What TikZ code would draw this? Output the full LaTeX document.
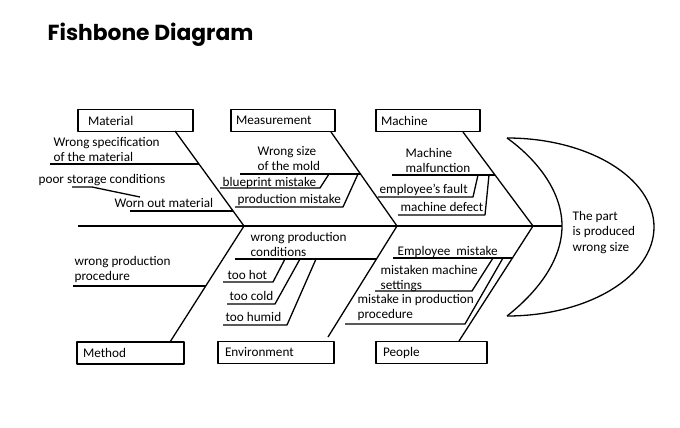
\documentclass[tikz,border=0pt]{standalone}
\usepackage{fontspec}
\setmainfont{Carlito}
\newfontfamily\titlefont{Poppins}
\begin{document}
\begin{tikzpicture}[x=1pt,y=-1pt,line width=1.3pt,line join=round,
  lbl/.style={font=\fontsize{13.2}{15.5}\selectfont,inner sep=0pt,anchor=base west,align=left},
  box/.style={draw,line width=1.2pt,minimum height=22pt,inner ysep=0pt,align=left,font=\fontsize{13.2}{15.5}\selectfont}]
\useasboundingbox (0,0) rectangle (680,428);
\node[font=\titlefont\bfseries\fontsize{21.8}{24}\selectfont,anchor=base west,inner sep=0pt] (title) at (47,41) {Fishbone Diagram};

% category boxes
\node[box,text width=95pt,inner xsep=10pt] (mat) at (135.5,120.5) {Material};
\node[box,text width=94pt,inner xsep=5pt] (mea) at (283,120.5) {Measurement};
\node[box,text width=94pt,inner xsep=5pt] (mac) at (428,120.5) {Machine};
\node[box,text width=95pt,inner xsep=6pt] (met) at (130.5,353) {Method};
\node[box,text width=102pt,inner xsep=7pt] (env) at (276,352.5) {Environment};
\node[box,text width=97pt,inner xsep=7pt] (peo) at (431.5,352.5) {People};

% spine and junctions
\coordinate (spL) at (78,226);
\coordinate (spR) at (562,226);
\coordinate (jA) at (244,226);
\coordinate (jB) at (397,226);
\coordinate (jC) at (533,226);
\draw (spL) -- (spR);

% head
\coordinate (hT) at (507,138);
\coordinate (hB) at (507,316);
\draw (hT) .. controls (588.2,138) and (654,177.8) .. (654,227)
           .. controls (654,276.2) and (588.2,316) .. (hB);
\draw (hT) .. controls (535,158) and (562,190) .. (spR)
           .. controls (562,262) and (535,294) .. (hB);
\node[lbl] (head) at (572,251) {The part\\is produced\\wrong size};

% Material
\coordinate (m0) at (175,131);
\draw (m0) -- (jA);
\node[lbl] (tm1) at (53,161.5) {Wrong specification\\of the material};
\coordinate (m1a) at (50,164); \coordinate (m1b) at (199,164);
\draw (m1a) -- (m1b);
\node[lbl] (tm2) at (38,183) {poor storage conditions};
\coordinate (m2a) at (72,187); \coordinate (m2b) at (92,187); \coordinate (m2c) at (140,197);
\draw (m2a) -- (m2b) -- (m2c);
\node[lbl] (tm3) at (114,207) {Worn out material};
\coordinate (m3a) at (130,211); \coordinate (m3b) at (233,211);
\draw (m3a) -- (m3b);

% Method
\coordinate (me0) at (170,342);
\draw (me0) -- (jA);
\node[lbl] (tme1) at (74,280.5) {wrong production\\procedure};
\coordinate (me1a) at (73,286); \coordinate (me1b) at (206,286);
\draw (me1a) -- (me1b);

% Measurement
\coordinate (ms0) at (331,132);
\draw (ms0) -- (jB);
\node[lbl] (tms1) at (257,170.5) {Wrong size\\of the mold};
\coordinate (ms1a) at (240,174); \coordinate (ms1b) at (360,174);
\draw (ms1a) -- (ms1b);
\node[lbl] (tms2) at (222,186) {blueprint mistake};
\coordinate (ms2a) at (220,188); \coordinate (ms2b) at (320,188); \coordinate (ms2c) at (329,174);
\draw (ms2a) -- (ms2b) -- (ms2c);
\node[lbl] (tms3) at (237,203) {production mistake};
\coordinate (ms3a) at (235,207); \coordinate (ms3b) at (343,207); \coordinate (ms3c) at (358,174);
\draw (ms3a) -- (ms3b) -- (ms3c);

% Environment
\coordinate (en0) at (328,337);
\draw (en0) -- (jB);
\node[lbl] (ten1) at (250,256.5) {wrong production\\conditions};
\coordinate (en1a) at (235,259); \coordinate (en1b) at (377,259);
\draw (en1a) -- (en1b);
\node[lbl] (ten2) at (227,279) {too hot};
\coordinate (en2a) at (223,282); \coordinate (en2b) at (273,282); \coordinate (en2c) at (285,259);
\draw (en2a) -- (en2b) -- (en2c);
\node[lbl] (ten3) at (229,300) {too cold};
\coordinate (en3a) at (227,304); \coordinate (en3b) at (275,304); \coordinate (en3c) at (300,259);
\draw (en3a) -- (en3b) -- (en3c);
\node[lbl] (ten4) at (225,321) {too humid};
\coordinate (en4a) at (223,325); \coordinate (en4b) at (287,325); \coordinate (en4c) at (316,259);
\draw (en4a) -- (en4b) -- (en4c);

% Machine
\coordinate (mc0) at (463,132);
\draw (mc0) -- (jC);
\node[lbl] (tmc1) at (405,172.5) {Machine\\malfunction};
\coordinate (mc1a) at (392,175); \coordinate (mc1b) at (495,175);
\draw (mc1a) -- (mc1b);
\node[lbl] (tmc2) at (379,193) {employee's fault};
\coordinate (mc2a) at (378,197); \coordinate (mc2b) at (473,197); \coordinate (mc2c) at (478,175);
\draw (mc2a) -- (mc2b) -- (mc2c);
\node[lbl] (tmc3) at (400,211) {machine defect};
\coordinate (mc3a) at (398,215); \coordinate (mc3b) at (485,215); \coordinate (mc3c) at (489,175);
\draw (mc3a) -- (mc3b) -- (mc3c);

% People
\coordinate (pe0) at (459,341);
\draw (pe0) -- (jC);
\node[lbl] (tpe1) at (397,255) {Employee\ \ mistake};
\coordinate (pe1a) at (393,258); \coordinate (pe1b) at (512,258);
\draw (pe1a) -- (pe1b);
\node[lbl] (tpe2) at (380,289.5) {mistaken machine\\settings};
\coordinate (pe2a) at (375,291); \coordinate (pe2b) at (472,291); \coordinate (pe2c) at (493,258);
\draw (pe2a) -- (pe2b) -- (pe2c);
\node[lbl] (tpe3) at (357,318.5) {mistake in production\\procedure};
\coordinate (pe3a) at (345,324); \coordinate (pe3b) at (465,324); \coordinate (pe3c) at (503,258);
\draw (pe3a) -- (pe3b) -- (pe3c);
\end{tikzpicture}
\end{document}
